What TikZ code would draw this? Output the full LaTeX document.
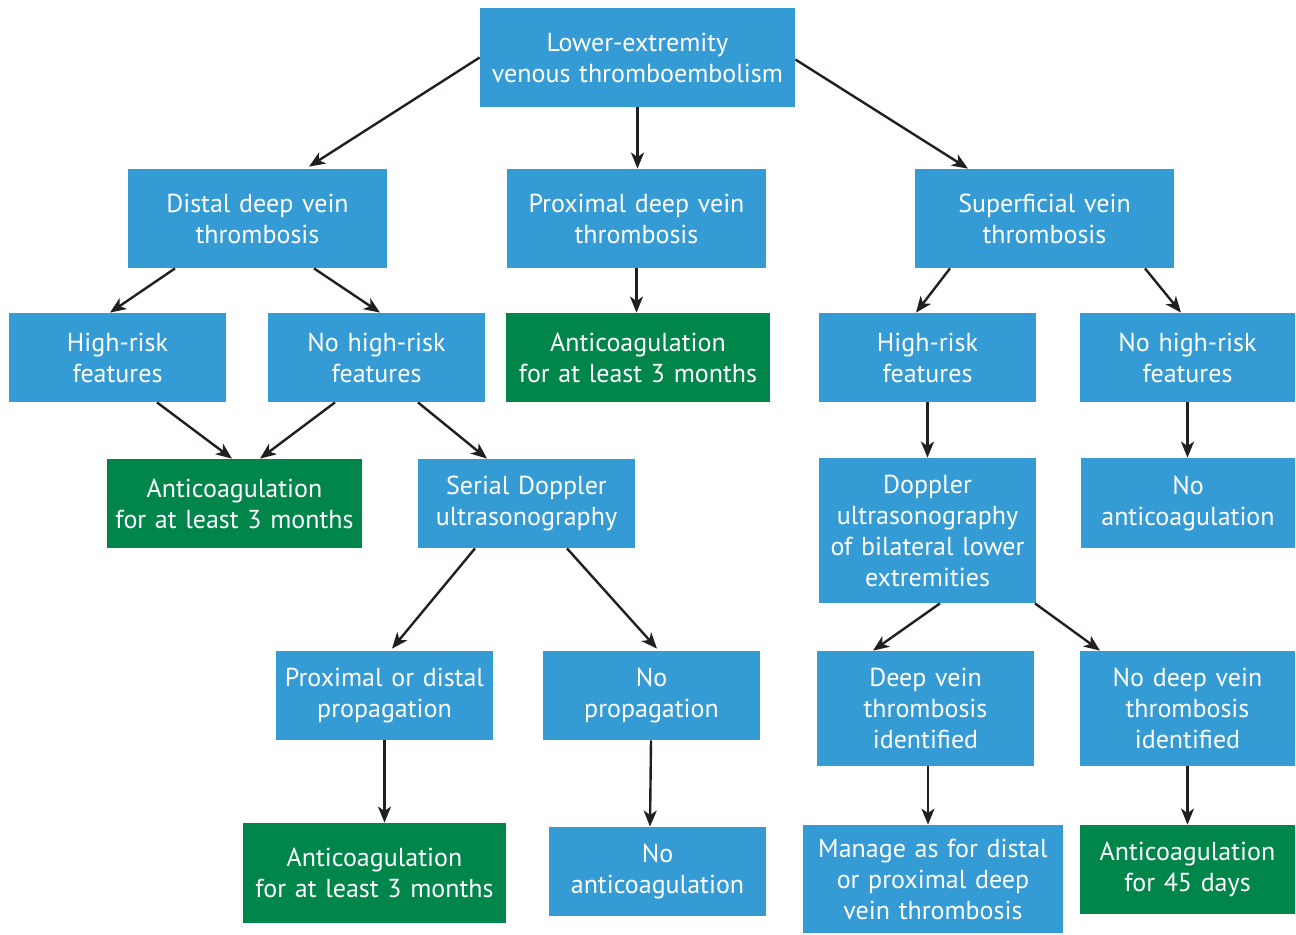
\documentclass[tikz,border=0pt]{standalone}
\usepackage{fontspec}
\setmainfont{PT Sans}
\usetikzlibrary{arrows.meta,calc}
\definecolor{boxblue}{HTML}{359BD5}
\definecolor{boxgreen}{HTML}{00854A}
\definecolor{arrowc}{HTML}{231F20}
\begin{document}
\begin{tikzpicture}[x=0.5pt,y=-0.5pt,
  bx/.style={fill=boxblue,text=white,inner sep=0pt,align=center,
    font=\fontsize{13}{15.5}\selectfont},
  gbx/.style={bx,fill=boxgreen},
  arr/.style={draw=arrowc,line width=1.2pt,-{Stealth[length=8pt,width=6.5pt,inset=2.2pt]}}]
\useasboundingbox[fill=white] (0,0) rectangle (1296,934);
\newcommand\mkbox[7]{\node[#1,text width=#5*0.5pt,minimum height=#6*0.5pt] (#2) at (#3,#4) {#7};}
\mkbox{bx}{top}{637.5}{57.5}{315}{99}{Lower-extremity\\venous thromboembolism}
\mkbox{bx}{distal}{257.5}{218.5}{259}{99}{Distal deep vein\\thrombosis}
\mkbox{bx}{prox}{636.5}{218.5}{259}{99}{Proximal deep vein\\thrombosis}
\mkbox{bx}{sup}{1044.5}{218.5}{259}{99}{Superficial vein\\thrombosis}
\mkbox{bx}{hrL}{117.5}{357.5}{217}{89}{High-risk\\features}
\mkbox{bx}{nhrL}{376.5}{357.5}{217}{89}{No high-risk\\features}
\mkbox{gbx}{acM}{638}{357.5}{264}{89}{Anticoagulation\\for at least 3 months}
\mkbox{bx}{hrR}{927.5}{357.5}{217}{89}{High-risk\\features}
\mkbox{bx}{nhrR}{1187.5}{357.5}{215}{89}{No high-risk\\features}
\mkbox{gbx}{acL}{234.5}{503.5}{255}{89}{Anticoagulation\\for at least 3 months}
\mkbox{bx}{serial}{526.5}{503.5}{217}{89}{Serial Doppler\\ultrasonography}
\mkbox{bx}{dop}{927.5}{530.5}{217}{145}{Doppler\\ultrasonography\\of bilateral lower\\extremities}
\mkbox{bx}{noacR}{1188}{503}{214}{90}{No\\anticoagulation}
\mkbox{bx}{prop}{384.5}{695.5}{217}{89}{Proximal or distal\\propagation}
\mkbox{bx}{noprop}{651.5}{695.5}{217}{89}{No\\propagation}
\mkbox{bx}{dvt}{925.5}{708.5}{217}{115}{Deep vein\\thrombosis\\identified}
\mkbox{bx}{nodvt}{1187.5}{708.5}{215}{115}{No deep vein\\thrombosis\\identified}
\mkbox{gbx}{acB}{374.5}{873}{263}{100}{Anticoagulation\\for at least 3 months}
\mkbox{bx}{noacB}{657.5}{871.5}{217}{89}{No\\anticoagulation}
\mkbox{bx}{manage}{933}{879}{260}{108}{Manage as for distal\\or proximal deep\\vein thrombosis}
\mkbox{gbx}{acf}{1187.5}{869.5}{215}{89}{Anticoagulation\\for 45 days}
% connectors
\draw[arr] (top.west) -- ($(distal.north)+(51.5,-2)$);
\draw[arr] (top.south) -- (top.south |- prox.north);
\draw[arr] ($(top.east)+(0,2)$) -- ($(sup.north)+(-76.5,0)$);
\draw[arr] ($(distal.south)+(-82.5,0)$) -- ($(hrL.north)+(-7.5,0)$);
\draw[arr] ($(distal.south)+(56.5,0)$) -- ($(nhrL.north)+(3.5,0)$);
\draw[arr] (prox.south) -- (prox.south |- acM.north);
\draw[arr] ($(sup.south)+(-94.5,0)$) -- ($(hrR.north)+(-11.5,0)$);
\draw[arr] ($(sup.south)+(100.5,0)$) -- ($(nhrR.north)+(-6.5,0)$);
\draw[arr] ($(hrL.south)+(39.5,0)$) -- ($(acL.north)+(-2.5,0)$);
\draw[arr] ($(nhrL.south)+(-41.5,0)$) -- ($(acL.north)+(25.5,0)$);
\draw[arr] ($(nhrL.south)+(41.5,0)$) -- ($(serial.north)+(-39.5,0)$);
\draw[arr] (hrR.south) -- (dop.north);
\draw[arr] (nhrR.south) -- (nhrR.south |- noacR.north);
\draw[arr] ($(serial.south)+(-51.5,0)$) -- ($(prop.north)+(7.5,-2)$);
\draw[arr] ($(serial.south)+(40.5,0)$) -- ($(noprop.north)+(5.5,-2)$);
\draw[arr] ($(dop.south)+(12.5,0)$) -- ($(dvt.north)+(-52.5,0)$);
\draw[arr] ($(dop.south)+(107.5,0)$) -- ($(nodvt.north)+(-87.5,0)$);
\draw[arr] (prop.south) -- (prop.south |- acB.north);
\draw[arr] ($(noprop.south)+(-0.5,0)$) -- ($(noacB.north)+(-7.5,0)$);
\draw[arr] ($(dvt.south)+(2.5,0)$) -- ($(manage.north)+(-5,0)$);
\draw[arr] (nodvt.south) -- (acf.north);
\end{tikzpicture}
\end{document}
